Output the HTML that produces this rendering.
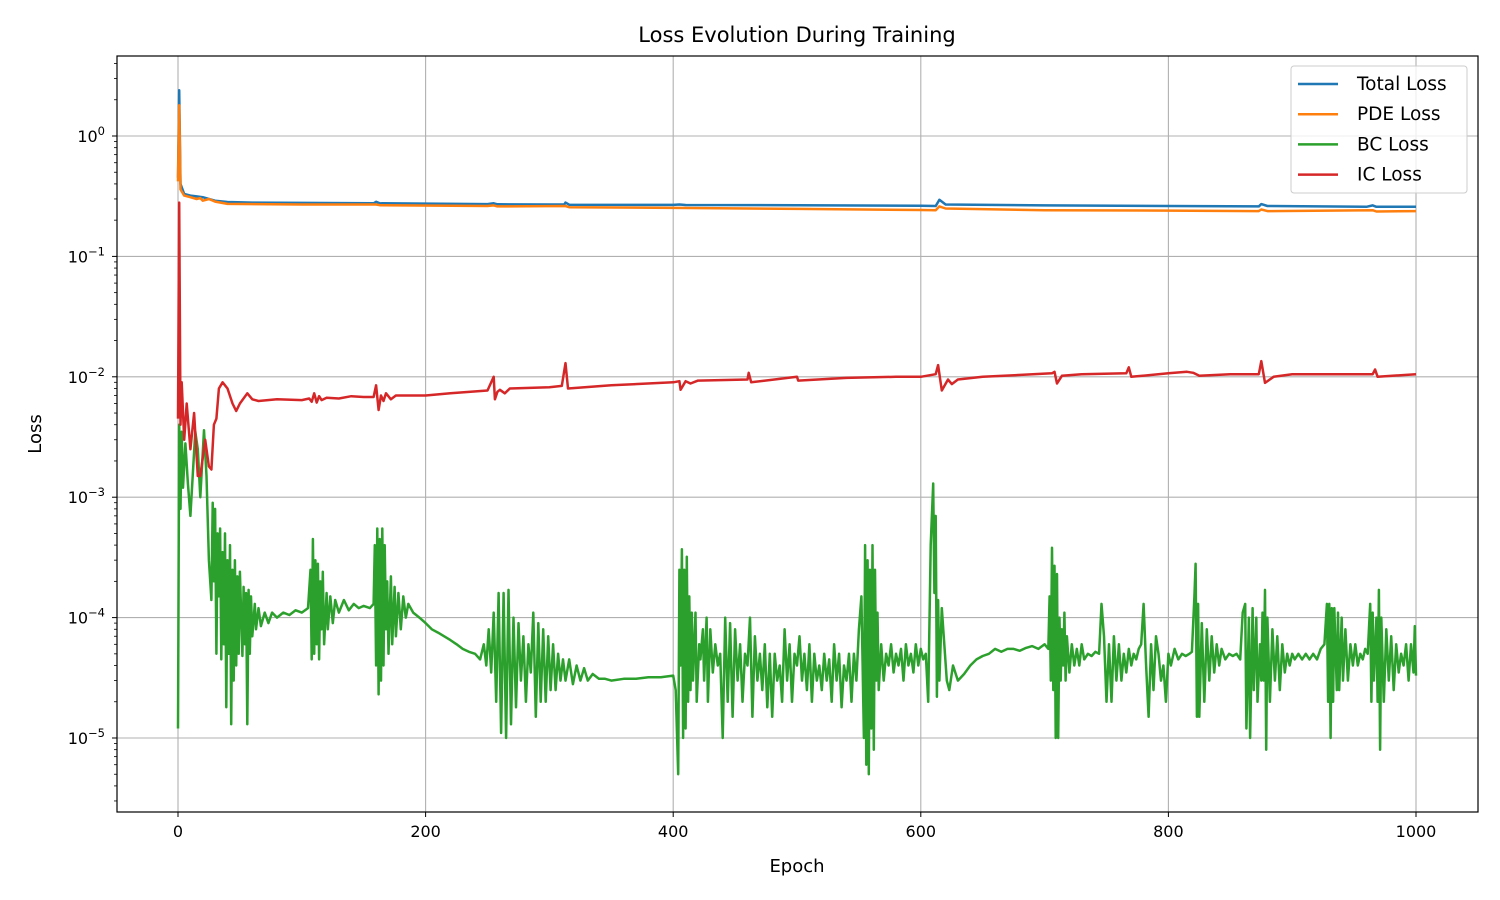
<!DOCTYPE html>
<html><head><meta charset="utf-8"><style>
body{margin:0;background:#fff;}
svg{display:block;font-family:"DejaVu Sans","Liberation Sans",sans-serif;}
</style></head><body>
<svg id="chart" width="1500" height="900" xmlns="http://www.w3.org/2000/svg">
<rect width="1500" height="900" fill="#fff"/>
<text x="797" y="42" font-size="21" text-anchor="middle">Loss Evolution During Training</text>
<text x="797" y="872" font-size="18" text-anchor="middle">Epoch</text>
<text x="41" y="434" font-size="18" text-anchor="middle" transform="rotate(-90 41 434)">Loss</text>
<g id="grid"></g>
<defs><clipPath id="pc"><rect x="117" y="56" width="1361" height="756"/></clipPath></defs>
<g id="series" clip-path="url(#pc)"></g>
<rect x="117" y="56" width="1361" height="756" fill="none" stroke="#000" stroke-width="1.2"/>
<g id="ticks"></g>
<g id="legend">
<rect x="1291" y="66" width="176" height="127" rx="3" fill="#fff" fill-opacity="0.8" stroke="#ccc"/>
</g>
</svg>
<script>
const xTicks=[0,200,400,600,800,1000];
const yDecades=[0,-1,-2,-3,-4,-5];
const seriesNames=["Total Loss","PDE Loss","BC Loss","IC Loss"];
const seriesColors=["#1f77b4","#ff7f0e","#2ca02c","#d62728"];
const totalPoints=[[0,0.45],[1,2.4],[2,0.4],[5,0.33],[10,0.32],[15,0.315],[20,0.31],[25,0.3],[30,0.29],[40,0.283],[60,0.28],[100,0.278],[158,0.276],[160,0.284],[163,0.276],[250,0.272],[255,0.276],[258,0.271],[300,0.27],[312,0.27],[313,0.28],[316,0.269],[400,0.268],[405,0.27],[410,0.267],[500,0.266],[600,0.263],[612,0.262],[615,0.295],[620,0.27],[700,0.265],[800,0.262],[873,0.26],[875,0.272],[880,0.262],[960,0.258],[965,0.265],[968,0.258],[1000,0.258]];
const pdePoints=[[0,0.42],[1,1.8],[2,0.36],[5,0.32],[10,0.31],[15,0.3],[18,0.305],[20,0.29],[25,0.3],[30,0.285],[40,0.273],[100,0.27],[160,0.27],[163,0.266],[250,0.262],[255,0.265],[258,0.26],[313,0.262],[316,0.256],[400,0.253],[500,0.248],[600,0.243],[612,0.242],[615,0.26],[620,0.25],[700,0.242],[800,0.24],[873,0.238],[875,0.245],[880,0.238],[965,0.242],[968,0.236],[1000,0.238]];
const bcPoints=[[0,1.2e-5],[1,4e-3],[2,8e-4],[3,3.5e-3],[4,1.2e-3],[6,2.8e-3],[8,1.3e-3],[10,7e-4],[12,1.6e-3],[14,3.5e-3],[16,2.5e-3],[18,1e-3],[21,3.6e-3],[23,1.5e-3],[25,3e-4],[27,1.4e-4],[28,9e-4],[29,2e-4],[30,8e-4],[31,5e-5],[32,5e-4],[33,1.5e-4],[34,5.5e-4],[35,4.5e-5],[36,3.5e-4],[37,6e-5],[38,5e-4],[39,1.8e-5],[40,3e-4],[41,5e-5],[42,4e-4],[43,1.3e-5],[44,2.5e-4],[45,3e-5],[46,3e-4],[47,4e-5],[48,2.2e-4],[49,5e-5],[50,2.4e-4],[52,4.8e-5],[53,1.8e-4],[54,6e-5],[55,1.6e-4],[56,1.3e-5],[57,1.7e-4],[58,5e-5],[59,1.5e-4],[60,7e-5],[62,1.3e-4],[63,8e-5],[65,1.2e-4],[67,8.5e-5],[70,1.1e-4],[73,9e-5],[76,1.1e-4],[80,1e-4],[85,1.1e-4],[90,1.05e-4],[95,1.15e-4],[100,1.1e-4],[105,1.2e-4],[107,2.5e-4],[108,4.5e-5],[109,4.5e-4],[110,5e-5],[111,3e-4],[112,6e-5],[113,2.8e-4],[114,4.5e-5],[115,2e-4],[116,8e-5],[117,2.4e-4],[118,6e-5],[120,1.6e-4],[121,8e-5],[123,1.5e-4],[125,9e-5],[127,1.4e-4],[130,1.1e-4],[134,1.4e-4],[138,1.15e-4],[142,1.3e-4],[146,1.2e-4],[150,1.25e-4],[155,1.2e-4],[158,1.3e-4],[159,4e-4],[160,4e-5],[161,5.5e-4],[162,2.3e-5],[163,4.5e-4],[164,3e-5],[165,5.5e-4],[166,4e-5],[167,4e-4],[168,8e-5],[169,2e-4],[170,5e-5],[172,2.2e-4],[173,6e-5],[175,1.8e-4],[176,7e-5],[178,1.6e-4],[180,8e-5],[182,1.5e-4],[184,1e-4],[186,1.3e-4],[190,1.1e-4],[195,1e-4],[200,9e-5],[205,8e-5],[210,7.5e-5],[215,7e-5],[220,6.5e-5],[225,6e-5],[230,5.5e-5],[235,5.2e-5],[240,5e-5],[244,4.5e-5],[247,6e-5],[249,4e-5],[251,8e-5],[253,3.5e-5],[255,1.1e-4],[257,2e-5],[259,1.6e-4],[261,1.1e-5],[263,1.6e-4],[265,1e-5],[267,1.7e-4],[269,1.3e-5],[271,1e-4],[273,1.8e-5],[275,9e-5],[277,3e-5],[279,7e-5],[281,2e-5],[283,6e-5],[285,3.5e-5],[287,1.1e-4],[289,1.5e-5],[291,9e-5],[293,2e-5],[295,8e-5],[297,2e-5],[299,7e-5],[301,2.5e-5],[303,6e-5],[305,2.5e-5],[307,5e-5],[309,3e-5],[311,4.5e-5],[313,3e-5],[316,4.5e-5],[319,2.8e-5],[322,4e-5],[325,3e-5],[328,3.8e-5],[331,3e-5],[335,3.4e-5],[340,3.1e-5],[345,3.1e-5],[350,3e-5],[360,3.1e-5],[370,3.1e-5],[380,3.2e-5],[390,3.2e-5],[400,3.3e-5],[402,2.5e-5],[404,5e-6],[405,2.5e-4],[406,4e-5],[407,3.7e-4],[408,1e-5],[409,2.5e-4],[410,1.2e-5],[411,3.2e-4],[412,2e-5],[413,1.5e-4],[414,2.5e-5],[415,1.1e-4],[416,3e-5],[418,1.1e-4],[419,2e-5],[421,6e-5],[422,4.5e-5],[424,8e-5],[425,3e-5],[427,1e-4],[428,2e-5],[430,8e-5],[432,3.5e-5],[434,6e-5],[436,4e-5],[438,5e-5],[440,1e-5],[442,1e-4],[444,2e-5],[446,9e-5],[448,1.5e-5],[450,8e-5],[452,3e-5],[454,6e-5],[456,2e-5],[458,5e-5],[460,4e-5],[462,1e-4],[464,1.5e-5],[466,7e-5],[468,3e-5],[470,5e-5],[472,2.5e-5],[474,6e-5],[476,1.8e-5],[478,5e-5],[480,1.5e-5],[482,5e-5],[484,3e-5],[486,4e-5],[488,2e-5],[490,8e-5],[492,3e-5],[494,6e-5],[496,2e-5],[498,5e-5],[500,4e-5],[502,7e-5],[504,3e-5],[506,5e-5],[508,2.5e-5],[510,6e-5],[512,2e-5],[514,5e-5],[516,3e-5],[518,4e-5],[520,2.5e-5],[522,5e-5],[524,3e-5],[526,4.5e-5],[528,2e-5],[530,6e-5],[532,3e-5],[534,5e-5],[536,1.8e-5],[538,4e-5],[540,3e-5],[542,5e-5],[544,2e-5],[546,5e-5],[548,3e-5],[550,8e-5],[552,1.5e-4],[554,1e-5],[555,4e-4],[556,6e-6],[557,3e-4],[558,5e-6],[559,2.5e-4],[560,1.2e-5],[561,4e-4],[562,8e-6],[563,2.5e-4],[564,3e-5],[565,1.1e-4],[566,2.5e-5],[568,6e-5],[570,3e-5],[572,5e-5],[574,4e-5],[576,6e-5],[578,3.5e-5],[580,5e-5],[582,4e-5],[584,5.5e-5],[586,3e-5],[588,6e-5],[590,4e-5],[592,5e-5],[594,3.5e-5],[596,6e-5],[598,4e-5],[600,5.5e-5],[602,4.5e-5],[604,5e-5],[606,2e-5],[608,4e-4],[610,1.3e-3],[611,1.6e-4],[612,7e-4],[613,2.2e-5],[614,1.4e-4],[615,3e-5],[617,1.2e-4],[619,6e-5],[621,3e-5],[623,2.5e-5],[626,4e-5],[630,3e-5],[635,3.4e-5],[640,4e-5],[645,4.5e-5],[650,4.8e-5],[655,5e-5],[660,5.5e-5],[665,5.2e-5],[670,5.5e-5],[675,5.5e-5],[680,5.3e-5],[685,5.6e-5],[690,5.8e-5],[695,5.5e-5],[700,6e-5],[703,5.5e-5],[704,1.5e-4],[705,3e-5],[706,3.8e-4],[707,2.5e-5],[708,2.7e-4],[709,1e-5],[710,2.3e-4],[711,1e-5],[712,1e-4],[713,3e-5],[714,8e-5],[715,4e-5],[716,1.1e-4],[717,3e-5],[718,7e-5],[720,3.5e-5],[722,6e-5],[724,4e-5],[726,5.5e-5],[728,4e-5],[730,6e-5],[732,4.5e-5],[735,5e-5],[738,4.8e-5],[741,5.2e-5],[744,5e-5],[746,1.3e-4],[748,7e-5],[750,2e-5],[752,6e-5],[754,2e-5],[756,7e-5],[758,3e-5],[760,6e-5],[762,3e-5],[764,5e-5],[766,3.5e-5],[768,5.5e-5],[770,4e-5],[772,5e-5],[774,4.5e-5],[776,5.5e-5],[778,6e-5],[780,1.3e-4],[782,4e-5],[784,1.5e-5],[786,6e-5],[788,2.5e-5],[790,7e-5],[792,5e-5],[794,3e-5],[796,4e-5],[798,2e-5],[800,5e-5],[802,4e-5],[805,5.5e-5],[808,4.5e-5],[811,5e-5],[814,4.8e-5],[817,5e-5],[819,5.2e-5],[821,1.5e-4],[822,2.8e-4],[823,1.5e-5],[824,1.3e-4],[825,1.5e-5],[827,9e-5],[829,2e-5],[831,8e-5],[833,3e-5],[835,7e-5],[837,3.5e-5],[839,6e-5],[841,4e-5],[843,5.5e-5],[846,4.5e-5],[849,5e-5],[852,4.8e-5],[855,5e-5],[858,4.5e-5],[860,1.1e-4],[862,1.3e-4],[863,1.2e-5],[865,1e-4],[866,1e-5],[868,1.2e-4],[869,2.5e-5],[871,1e-4],[872,2e-5],[874,6e-5],[875,3e-5],[876,1.1e-4],[877,3e-5],[878,1.7e-4],[879,8e-6],[880,1e-4],[882,2e-5],[884,8e-5],[886,3e-5],[888,7e-5],[890,2.5e-5],[892,6e-5],[894,3.5e-5],[896,5e-5],[898,4e-5],[900,5e-5],[902,4.5e-5],[905,5e-5],[908,4.5e-5],[911,5e-5],[914,4.5e-5],[917,5e-5],[920,4.5e-5],[923,5.5e-5],[926,6e-5],[928,1.3e-4],[929,2e-5],[930,1.3e-4],[931,1e-5],[932,1.2e-4],[933,2e-5],[934,1.2e-4],[936,2.5e-5],[937,1.1e-4],[938,2.5e-5],[940,1e-4],[941,3e-5],[943,8e-5],[945,3e-5],[947,6e-5],[949,4e-5],[951,6e-5],[953,4e-5],[955,5e-5],[957,4.5e-5],[959,5.5e-5],[961,5e-5],[963,1.3e-4],[964,2e-5],[965,1.1e-4],[966,3e-5],[968,1e-4],[969,2e-5],[970,1.7e-4],[971,8e-6],[972,1e-4],[974,2e-5],[976,8e-5],[978,3e-5],[980,7e-5],[982,2.5e-5],[984,6e-5],[986,3.5e-5],[988,5e-5],[990,4e-5],[992,6e-5],[994,3e-5],[996,6e-5],[998,3.5e-5],[999,8.5e-5],[1000,3.3e-5]];
const icPoints=[[0,4.5e-3],[1,0.28],[2,4e-3],[3,9e-3],[5,3e-3],[7,6e-3],[10,2.5e-3],[13,5e-3],[16,1.5e-3],[18,1.5e-3],[22,3e-3],[25,1.8e-3],[27,1.7e-3],[29,4e-3],[31,4.5e-3],[33,8e-3],[36,9e-3],[40,8e-3],[44,6e-3],[47,5.2e-3],[50,6e-3],[56,7.3e-3],[60,6.5e-3],[65,6.3e-3],[80,6.5e-3],[100,6.4e-3],[106,6.6e-3],[108,6.2e-3],[110,7.3e-3],[112,6.1e-3],[114,6.9e-3],[116,6.4e-3],[120,6.7e-3],[130,6.6e-3],[140,6.9e-3],[150,6.8e-3],[158,6.8e-3],[160,8.5e-3],[162,5.3e-3],[164,7e-3],[166,6.3e-3],[168,7.3e-3],[172,6.5e-3],[176,7e-3],[200,7e-3],[220,7.3e-3],[250,7.7e-3],[255,1e-2],[256,6.5e-3],[258,7.5e-3],[260,7.8e-3],[264,7.3e-3],[268,8e-3],[300,8.2e-3],[310,8.4e-3],[313,1.3e-2],[315,8e-3],[350,8.5e-3],[400,9e-3],[405,9.2e-3],[406,7.8e-3],[410,9.2e-3],[414,8.8e-3],[420,9.3e-3],[460,9.5e-3],[461,1.08e-2],[463,9e-3],[500,1e-2],[501,9.3e-3],[540,9.8e-3],[580,1e-2],[600,1e-2],[612,1.05e-2],[614,1.25e-2],[617,7.7e-3],[622,9.5e-3],[625,8.7e-3],[630,9.5e-3],[650,1e-2],[706,1.07e-2],[708,1.1e-2],[710,8.8e-3],[714,1.02e-2],[730,1.05e-2],[766,1.07e-2],[768,1.2e-2],[770,1e-2],[800,1.07e-2],[815,1.1e-2],[820,1.08e-2],[825,1.02e-2],[850,1.05e-2],[873,1.05e-2],[875,1.35e-2],[878,8.9e-3],[885,1e-2],[900,1.05e-2],[965,1.05e-2],[967,1.15e-2],[969,1e-2],[1000,1.05e-2]];

const NS="http://www.w3.org/2000/svg";
const X0=117,X1=1478,Y0=56,Y1=812;
const sx=e=>178+e*(1416-178)/1000;
const sy=v=>136-Math.log10(v)*120.4;
function mk(tag,attrs,parent){const el=document.createElementNS(NS,tag);for(const k in attrs)el.setAttribute(k,attrs[k]);parent.appendChild(el);return el;}
const grid=document.getElementById('grid'),ticks=document.getElementById('ticks');
xTicks.forEach(t=>{const x=sx(t);
 const g=mk('line',{x1:x,x2:x,y1:Y0,y2:Y1,stroke:'#b0b0b0','stroke-width':1.1},grid);
 
 
 const tk=mk('line',{x1:x,x2:x,y1:Y1,y2:Y1+5,stroke:'#000'},ticks);
 
 
 const lb=mk('text',{x:x,y:Y1+25,'font-size':16,'text-anchor':'middle'},ticks);lb.textContent=t;
 
 
});
yDecades.forEach(d=>{const y=sy(Math.pow(10,d));
 const g=mk('line',{x1:X0,x2:X1,y1:y,y2:y,stroke:'#b0b0b0','stroke-width':1.1},grid);
 
 
 const tk=mk('line',{x1:X0-5,x2:X0,y1:y,y2:y,stroke:'#000'},ticks);
 
 
 const lb=mk('text',{x:X0-12,y:y+6,'font-size':16,'text-anchor':'end'},ticks);
 lb.innerHTML='10<tspan dy="-7" font-size="11.5">'+(d<0?'\u2212'+(-d):d)+'</tspan>';
 
 
});
for(let d=-6;d<=0;d++){for(let m=2;m<=9;m++){const y=sy(m*Math.pow(10,d));if(y<Y0||y>Y1)continue;
 const tk=mk('line',{x1:X0-3,x2:X0,y1:y,y2:y,stroke:'#000','stroke-width':0.8},ticks);
 
 }}
const ser=document.getElementById('series');
const data=[totalPoints,pdePoints,bcPoints,icPoints];
[0,1,2,3].forEach(i=>{const pts=data[i];
 const d=pts.map((p,j)=>(j?'L':'M')+sx(p[0]).toFixed(1)+','+sy(p[1]).toFixed(1)).join('');
 const p=mk('path',{d:d,fill:'none',stroke:seriesColors[i],'stroke-width':2.5,'stroke-linejoin':'round'},ser);
 
 
});
const leg=document.getElementById('legend');
seriesNames.forEach((n,i)=>{const y=84+i*30.2;
 const l=mk('line',{x1:1298,x2:1338,y1:y,y2:y,stroke:seriesColors[i],'stroke-width':2.5},leg);
 
 
 const t=mk('text',{x:1357,y:y+6,'font-size':18.5},leg);t.textContent=n;
 
 
});
</script>
</body></html>
